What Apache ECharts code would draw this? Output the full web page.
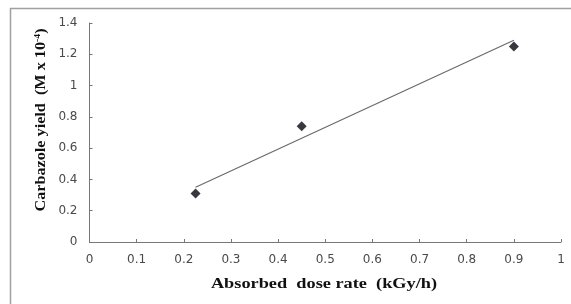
<!DOCTYPE html>
<html><head><meta charset="utf-8">
<script src="https://cdn.jsdelivr.net/npm/echarts@6/dist/echarts.min.js"></script>
<style>html,body{margin:0;padding:0;background:#fff}#c{width:571px;height:304px}</style>
</head><body><div id="c"></div>
<script>
const doseRate = [0.225, 0.45, 0.9];
const yieldVals = [0.31, 0.74, 1.25];
const trendX = [0.225, 0.9];
const trendY = [0.35, 1.29];
const xTicks = [0, 0.1, 0.2, 0.3, 0.4, 0.5, 0.6, 0.7, 0.8, 0.9, 1];
const yTicks = [0, 0.2, 0.4, 0.6, 0.8, 1, 1.2, 1.4];

const chart = echarts.init(document.getElementById('c'));
const tickFont = {fontFamily: 'DejaVu Sans', fontSize: 12, color: '#4a4a4a'};
chart.setOption({
  animation: false,
  backgroundColor: '#fff',
  graphic: [
    {type: 'line', shape: {x1: 10, y1: 8.5, x2: 571, y2: 8.5}, style: {stroke: '#a0a0a0', lineWidth: 1.5}},
    {type: 'line', shape: {x1: 10.5, y1: 8, x2: 10.5, y2: 304}, style: {stroke: '#a0a0a0', lineWidth: 1.5}},
    {type: 'text', x: 324, y: 284, scaleX: 1.22, style: {text: 'Absorbed  dose rate  (kGy/h)', font: 'bold 15px "Liberation Serif"', fill: '#111', align: 'center', verticalAlign: 'middle'}},
    {type: 'text', x: 41, y: 120, rotation: Math.PI / 2, scaleX: 1.08, style: {
      rich: {t: {font: 'bold 15px "Liberation Serif"', fill: '#111'}, s: {font: 'bold 9px "Liberation Serif"', fill: '#111', verticalAlign: 'top', padding: [0,0,7,0]}},
      text: '{t|Carbazole yield  (M x 10}{s|-4}{t|)}', align: 'center', verticalAlign: 'middle'}}
  ],
  grid: {left: 89.5, right: 10, top: 23, bottom: 62},
  xAxis: {
    type: 'value', min: 0, max: 1, interval: 0.1,
    axisLine: {lineStyle: {color: '#777', width: 1}},
    axisTick: {inside: true, length: 3, lineStyle: {color: '#777'}},
    splitLine: {show: false},
    axisLabel: Object.assign({margin: 12, formatter: v => xTicks.includes(+v.toFixed(1)) ? String(+v.toFixed(1)) : ''}, tickFont)
  },
  yAxis: {
    type: 'value', min: 0, max: 1.4, interval: 0.2,
    axisLine: {show: true, lineStyle: {color: '#777', width: 1}},
    axisTick: {show: true, inside: true, length: 3, lineStyle: {color: '#777'}},
    splitLine: {show: false},
    axisLabel: Object.assign({margin: 12, formatter: v => yTicks.includes(+v.toFixed(1)) ? String(+v.toFixed(1)) : ''}, tickFont)
  },
  series: [
    {type: 'line', data: trendX.map((x, i) => [x, trendY[i]]), symbol: 'none',
     lineStyle: {color: '#6a6a6a', width: 1.2}},
    {type: 'scatter', data: doseRate.map((x, i) => [x, yieldVals[i]]), symbol: 'diamond', symbolSize: 10,
     itemStyle: {color: '#05080f'}}
  ]
});
</script></body></html>
